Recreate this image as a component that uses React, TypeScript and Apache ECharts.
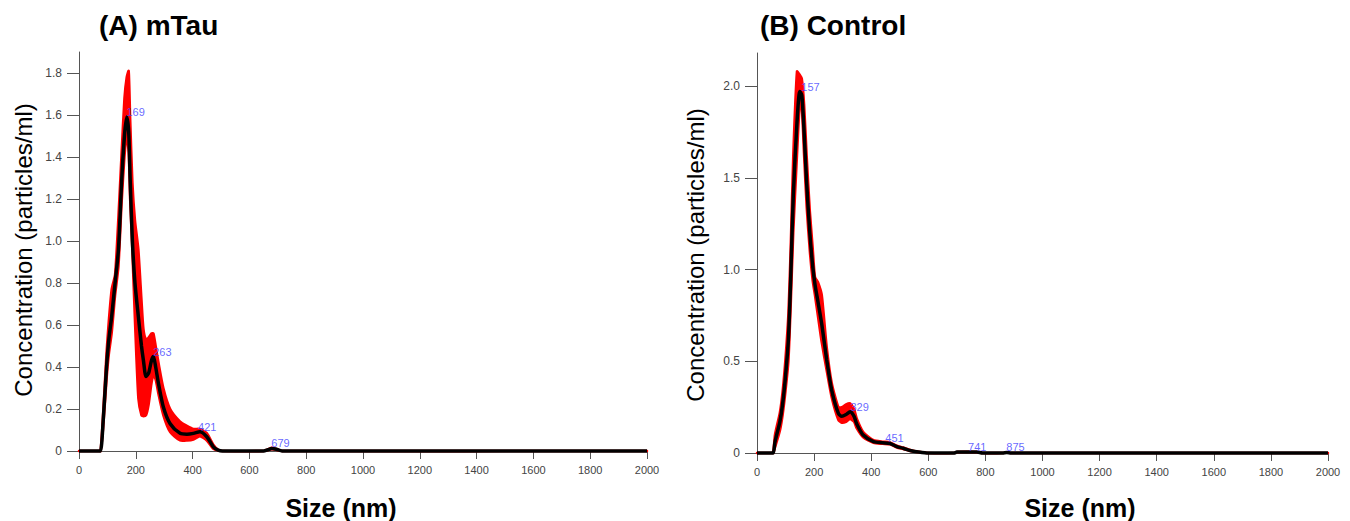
import React, { useEffect, useRef } from "react";
import * as echarts from "echarts";

// ---------- Data (A) mTau ----------
const sizesA = [0, 70, 76, 85, 97, 105, 115, 127, 139, 150, 160, 168, 175, 180, 188, 197, 209, 220, 227, 236, 245, 255, 262, 270, 280, 297, 321, 356, 380, 403, 426, 450, 473, 490, 505, 650, 665, 679, 695, 715, 2000];
const meanA = [0, 0, 0, 0.14, 0.40, 0.53, 0.64, 0.80, 0.96, 1.28, 1.50, 1.59, 1.52, 1.30, 1.00, 0.80, 0.64, 0.50, 0.43, 0.355, 0.37, 0.43, 0.45, 0.40, 0.32, 0.21, 0.13, 0.084, 0.08, 0.084, 0.092, 0.068, 0.02, 0.004, 0, 0, 0.006, 0.012, 0.008, 0, 0];
const upperA = [0, 0, 0, 0.18, 0.47, 0.62, 0.77, 0.84, 1.12, 1.42, 1.68, 1.78, 1.81, 1.59, 1.28, 1.10, 0.96, 0.72, 0.58, 0.53, 0.54, 0.56, 0.56, 0.50, 0.42, 0.30, 0.20, 0.14, 0.12, 0.105, 0.105, 0.085, 0.03, 0.006, 0, 0, 0.008, 0.016, 0.01, 0, 0];
const lowerA = [0, 0, 0, 0.11, 0.34, 0.46, 0.56, 0.74, 0.88, 1.18, 1.40, 1.50, 1.42, 1.20, 0.95, 0.62, 0.25, 0.17, 0.165, 0.17, 0.22, 0.32, 0.36, 0.34, 0.27, 0.17, 0.09, 0.05, 0.05, 0.055, 0.07, 0.05, 0.01, 0.002, 0, 0, 0.004, 0.008, 0.005, 0, 0];
const peakSizesA = [169, 263, 421, 679];
const peakConcA = [1.59, 0.45, 0.092, 0.012];
const yTicksA = [0, 0.2, 0.4, 0.6, 0.8, 1.0, 1.2, 1.4, 1.6, 1.8];

// ---------- Data (B) Control ----------
const sizesB = [0, 50, 57, 63, 80, 90, 100, 110, 118, 127, 140, 150, 157, 165, 174, 185, 195, 203, 214, 227, 244, 262, 285, 297, 312, 326, 340, 349, 372, 408, 440, 466, 490, 512, 540, 559, 600, 690, 700, 770, 790, 860, 875, 890, 2000];
const meanB = [0, 0, 0, 0.06, 0.17, 0.27, 0.42, 0.62, 0.95, 1.40, 1.80, 1.97, 1.95, 1.75, 1.47, 1.20, 1.02, 0.92, 0.82, 0.70, 0.51, 0.34, 0.216, 0.20, 0.21, 0.225, 0.20, 0.16, 0.098, 0.062, 0.056, 0.052, 0.035, 0.026, 0.012, 0.007, 0, 0, 0.005, 0.005, 0, 0, 0.003, 0, 0];
const upperB = [0, 0, 0.01, 0.10, 0.22, 0.34, 0.52, 0.76, 1.12, 1.62, 2.08, 2.06, 2.04, 1.90, 1.62, 1.32, 1.12, 0.96, 0.93, 0.86, 0.58, 0.38, 0.25, 0.25, 0.265, 0.27, 0.24, 0.19, 0.115, 0.07, 0.062, 0.058, 0.04, 0.03, 0.015, 0.008, 0, 0, 0.006, 0.006, 0, 0, 0.004, 0, 0];
const lowerB = [0, 0, 0, 0.03, 0.12, 0.21, 0.34, 0.50, 0.80, 1.20, 1.62, 1.90, 1.88, 1.62, 1.34, 1.10, 0.94, 0.86, 0.74, 0.60, 0.45, 0.30, 0.18, 0.165, 0.17, 0.185, 0.17, 0.135, 0.085, 0.055, 0.05, 0.047, 0.03, 0.022, 0.01, 0.006, 0, 0, 0.004, 0.004, 0, 0, 0.002, 0, 0];
const peakSizesB = [157, 329, 451, 741, 875];
const peakConcB = [1.97, 0.225, 0.056, 0.005, 0.003];
const yTicksB = [0, 0.5, 1.0, 1.5, 2.0];

const xTicks = [0, 200, 400, 600, 800, 1000, 1200, 1400, 1600, 1800, 2000];

const FONT = "'Liberation Sans', Arial, Helvetica, sans-serif";
const RED = "#ff0000";
const AXIS = "#555555";

function fmtY(v: number) {
  return v === 0 ? "0" : v.toFixed(1);
}

function makeSeries(idx: number, sizes: number[], mean: number[], lower: number[], upper: number[], peaks: number[], peakVals: number[]) {
  const smooth = 0.25;
  return [
    {
      type: "custom",
      xAxisIndex: idx,
      yAxisIndex: idx,
      data: [[0, 0]],
      clip: false,
      z: 2,
      silent: true,
      renderItem: (params: any, api: any) => {
        const pts: number[][] = [];
        for (let i = 0; i < sizes.length; i++) pts.push(api.coord([sizes[i], upper[i]]));
        for (let i = sizes.length - 1; i >= 0; i--) pts.push(api.coord([sizes[i], lower[i]]));
        return {
          type: "polygon",
          shape: { points: pts, smooth: 0.2 },
          style: { fill: RED, stroke: RED, lineWidth: 2.5, lineJoin: "round" },
        };
      },
    },
    {
      type: "line",
      xAxisIndex: idx,
      yAxisIndex: idx,
      data: sizes.map((s, i) => [s, mean[i]]),
      symbol: "none",
      smooth,
      clip: false,
      lineStyle: { color: "#000000", width: 3.5 },
      z: 3,
    },
    {
      type: "scatter",
      xAxisIndex: idx,
      yAxisIndex: idx,
      data: peaks.map((p, i) => [p, peakVals[i]]),
      symbolSize: 1,
      itemStyle: { color: "rgba(0,0,0,0)" },
      z: 4,
      label: {
        show: true,
        position: [0, 1],
        align: "left",
        verticalAlign: "bottom",
        formatter: (p: any) => String(p.value[0]),
        color: "#3f3fff",
        fontFamily: FONT,
        fontSize: 11,
      },
    },
  ];
}

function xAxis(idx: number) {
  return {
    type: "value",
    gridIndex: idx,
    min: 0,
    max: 2000,
    interval: 200,
    axisLine: { show: true, onZero: false, lineStyle: { color: AXIS, width: 1 } },
    axisTick: { show: true, length: 8, lineStyle: { color: AXIS } },
    axisLabel: {
      show: true,
      margin: 13,
      color: "#444",
      fontFamily: FONT,
      fontSize: 11,
      customValues: xTicks,
      formatter: (v: number) => String(v),
    },
    splitLine: { show: false },
  };
}

function yAxis(idx: number, max: number, ticks: number[]) {
  return {
    type: "value",
    gridIndex: idx,
    min: 0,
    max,
    axisLine: { show: true, lineStyle: { color: AXIS, width: 1 } },
    axisTick: { show: true, length: 12, lineStyle: { color: AXIS }, customValues: ticks },
    axisLabel: {
      show: true,
      margin: 17,
      color: "#444",
      fontFamily: FONT,
      fontSize: 12,
      customValues: ticks,
      formatter: (v: number) => fmtY(v),
    },
    splitLine: { show: false },
  };
}

export default function App() {
  const ref = useRef<HTMLDivElement>(null);
  useEffect(() => {
    document.body.style.margin = "0";
    if (!ref.current) return;
    const chart = echarts.init(ref.current, undefined, { renderer: "svg" });
    const option: any = {
      animation: false,
      backgroundColor: "#ffffff",
      grid: [
        { left: 79, top: 52, width: 568, height: 399 },
        { left: 757, top: 53, width: 571, height: 400 },
      ],
      xAxis: [xAxis(0), xAxis(1)],
      yAxis: [yAxis(0, 1.9, yTicksA), yAxis(1, 2.18, yTicksB)],
      series: [
        ...makeSeries(0, sizesA, meanA, lowerA, upperA, peakSizesA, peakConcA),
        ...makeSeries(1, sizesB, meanB, lowerB, upperB, peakSizesB, peakConcB),
      ],
      graphic: [
        { type: "text", x: 99, y: 39, z: 10, style: { text: "(A) mTau", font: `bold 28px ${FONT}`, fill: "#000", textVerticalAlign: "bottom" } },
        { type: "text", x: 760, y: 39, z: 10, style: { text: "(B) Control", font: `bold 28px ${FONT}`, fill: "#000", textVerticalAlign: "bottom" } },
        { type: "text", x: 341, y: 508, z: 10, style: { text: "Size (nm)", font: `bold 25px ${FONT}`, fill: "#000", textAlign: "center", textVerticalAlign: "middle" } },
        { type: "text", x: 1080, y: 508, z: 10, style: { text: "Size (nm)", font: `bold 25px ${FONT}`, fill: "#000", textAlign: "center", textVerticalAlign: "middle" } },
        { type: "text", x: 23, y: 250, rotation: Math.PI / 2, z: 10, style: { text: "Concentration (particles/ml)", font: `24px ${FONT}`, fill: "#000", textAlign: "center", textVerticalAlign: "middle" } },
        { type: "text", x: 695, y: 255, rotation: Math.PI / 2, z: 10, style: { text: "Concentration (particles/ml)", font: `24px ${FONT}`, fill: "#000", textAlign: "center", textVerticalAlign: "middle" } },
      ],
    };
    chart.setOption(option);
    return () => chart.dispose();
  }, []);
  return <div ref={ref} style={{ width: 1350, height: 521 }} />;
}
